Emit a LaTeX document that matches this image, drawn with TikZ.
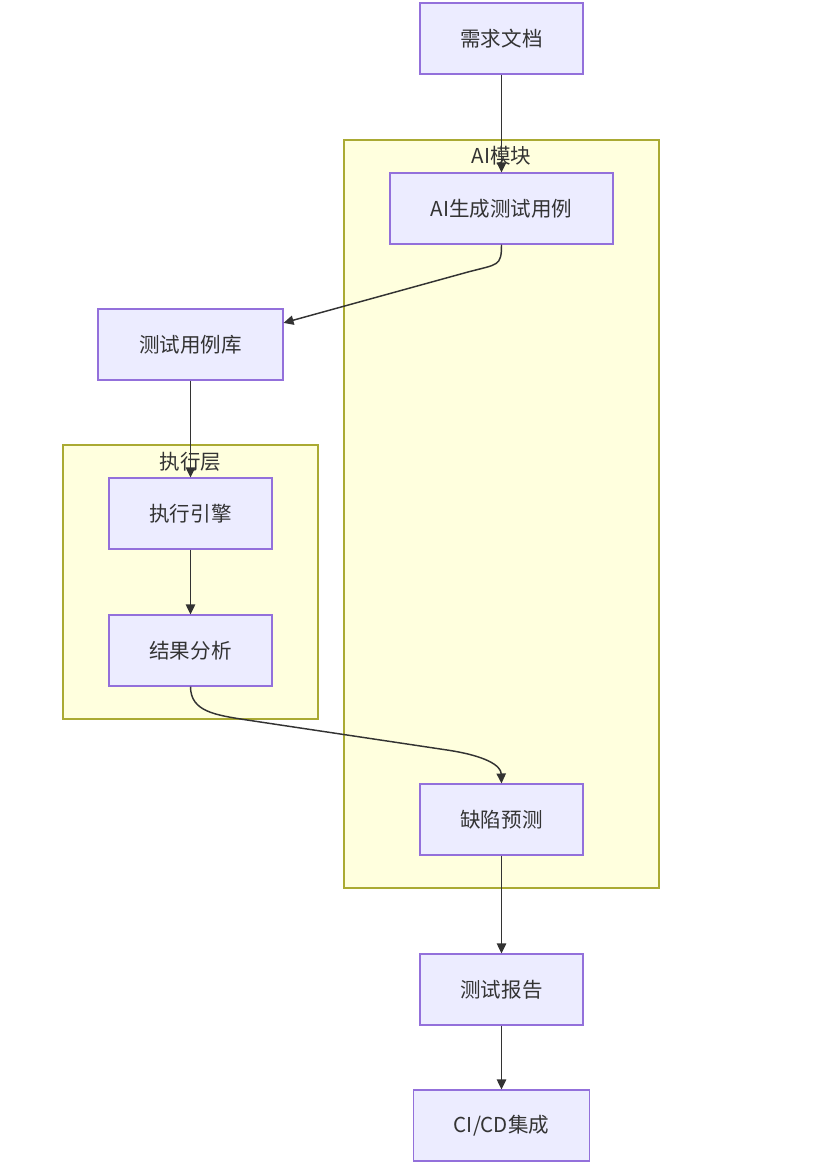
\documentclass[tikz,border=0pt]{standalone}
\usepackage{fontspec}
\setmainfont{Noto Sans CJK SC}
\usetikzlibrary{positioning, arrows.meta, calc}

\definecolor{nodefill}{HTML}{ECECFF}
\definecolor{nodeline}{HTML}{9370DB}
\definecolor{clusterfill}{HTML}{FFFFDE}
\definecolor{clusterline}{HTML}{AAAA33}
\definecolor{edgecolor}{HTML}{333333}

\begin{document}
\begin{tikzpicture}[
  x=0.75pt, y=-0.75pt,
  mybox/.style={
     rectangle,
     draw=nodeline,
     fill=nodefill,
     line width=0.8pt,
     text=edgecolor,
     font=\fontsize{15.4}{18}\selectfont,
     minimum width=122.25pt,
     minimum height=53.25pt},
  mycluster/.style={draw=clusterline, fill=clusterfill, line width=0.8pt},
  mylabel/.style={text=edgecolor, font=\fontsize{15.4}{18}\selectfont},
  myarrow/.style={draw=edgecolor, line width=1.1pt,
     -{Triangle[length=7.5pt,width=7pt]}}
  ]
  \useasboundingbox (0,0) rectangle (816,1169);

  % subgraphs
  \draw[mycluster] (344,140) rectangle (659,888);
  \node[mylabel] (ailabel) at (501.5,156) {AI模块};
  \draw[mycluster] (63,445) rectangle (318,719);
  \node[mylabel] (execlabel) at (190.5,462) {执行层};

  % nodes
  \node[mybox] (req) at (501.5,38.5) {需求文档};
  \node[mybox, minimum width=167.25pt] (gen) at (501.5,208.5) {AI生成测试用例};
  \node[mybox, minimum width=138.75pt] (lib) at (190.5,344.5) {测试用例库};
  \node[mybox] (engine) at (190.5,513.5) {执行引擎};
  \node[mybox] (result) at (190.5,650.5) {结果分析};
  \node[mybox] (defect) at (501.5,819.5) {缺陷预测};
  \node[mybox] (report) at (501.5,989.5) {测试报告};
  \node[mybox, minimum width=132pt] (cicd) at (501.5,1125.5) {CI/CD集成};

  \coordinate (libin) at ($(lib.north east)!0.2!(lib.south east)$);

% edges
\draw [myarrow] (req) -- (gen);
\draw [myarrow] (gen.south) .. controls +(0,22) and +(30,-8) .. (468,272) -- (libin);
\draw [myarrow] (lib) -- (engine);
\draw [myarrow] (engine) -- (result);
\draw [myarrow] (result.south) .. controls +(0,25) and (215,715) .. (247,720)
   -- (447,750) .. controls (487,756) and (501,766) .. (defect.north);
\draw [myarrow] (defect) -- (report);
\draw [myarrow] (report) -- (cicd);

\end{tikzpicture}
\end{document}
